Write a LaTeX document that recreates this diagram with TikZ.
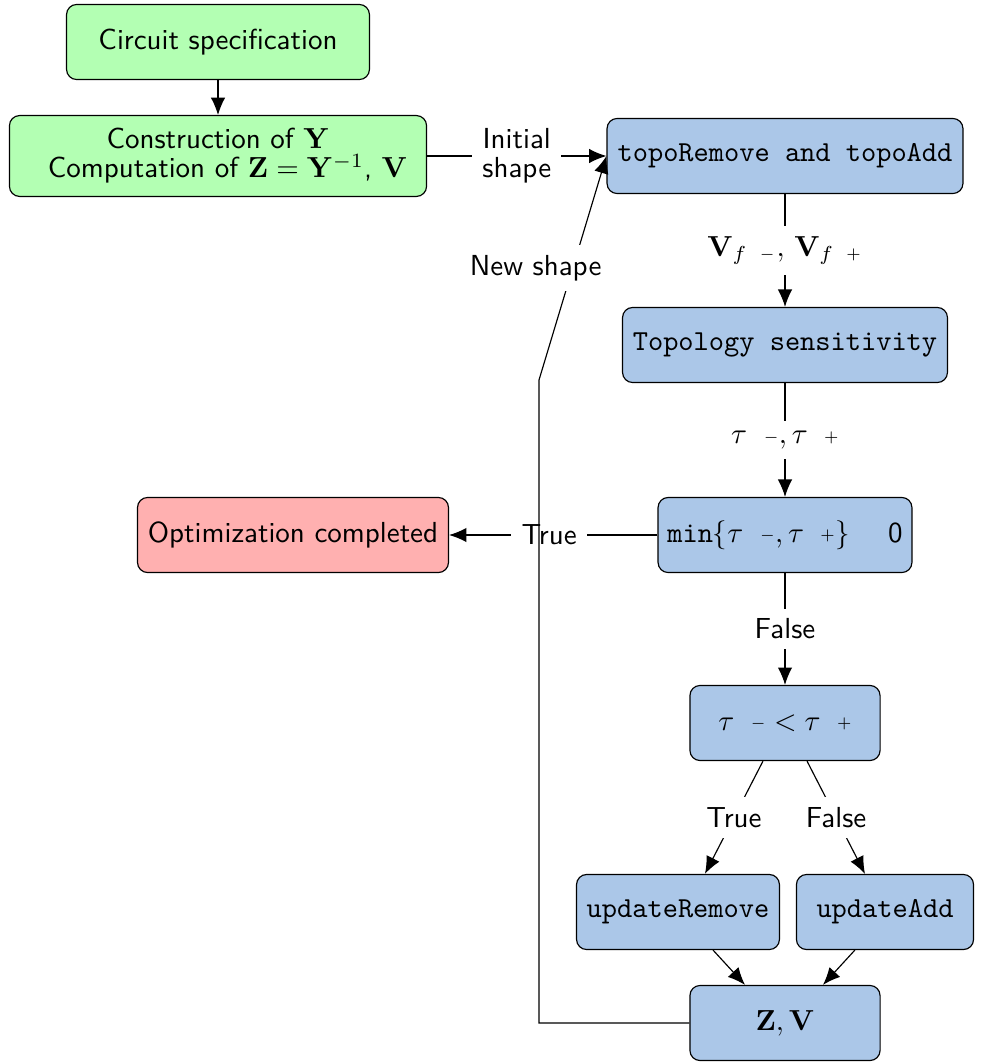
\documentclass[tikz,border=0pt]{standalone}
\usepackage{amsmath}
\usepackage{amssymb}
\usepackage{tikz}
\usepackage{xcolor}
\usetikzlibrary{arrows.meta}

\definecolor{specgreen}{HTML}{B3FFB3}
\definecolor{stepblue}{HTML}{ABC7E8}
\definecolor{donered}{HTML}{FFB0B0}

% small sign after a blank, as the picture prints it
\newcommand{\gapsign}[1]{\;\;\raisebox{0.8pt}{$\scriptscriptstyle #1$}}

\tikzset{
  blockbox/.style={draw, rounded corners=3.5pt, align=center, font=\sffamily,
    minimum height=25.9pt, inner sep=2pt},
  greenbox/.style={blockbox, fill=specgreen},
  bluebox/.style={blockbox, fill=stepblue},
  redbox/.style={blockbox, fill=donered},
  flow/.style={-{Latex[length=6pt,width=5pt]}},
  edgelabel/.style={fill=white, font=\sffamily, align=center, inner sep=3.5pt}
}

\begin{document}
\begin{tikzpicture}[x=0.345pt, y=-0.345pt]
  \useasboundingbox (0,0) rectangle (988,1064);
  % --- left column ----------------------------------------------------
  \node[greenbox, minimum width=104.5pt] (spec) at (218,42) {Circuit specification};
  \node[greenbox, minimum width=143.9pt, minimum height=27.9pt] (constr) at (218,156)
       {Construction of $\mathbf{Y}$\\[-2pt]
        \ \ Computation of $\mathbf{Z}=\mathbf{Y}^{-1}$, $\mathbf{V}$};
  \node[redbox, minimum width=107.3pt] (done) at (293,535) {Optimization completed};
  % --- right column ---------------------------------------------------
  \node[bluebox, minimum width=122.8pt] (topo) at (785,156) {\texttt{topoRemove and topoAdd}};
  \node[bluebox, minimum width=112.1pt] (sens) at (785,345) {\texttt{Topology sensitivity}};
  \node[bluebox, minimum width=87.6pt] (test) at (785,535)
       {\texttt{min}$\{\tau\gapsign{-},\tau\gapsign{+}\}$\quad\ 0};
  \node[bluebox, minimum width=65.6pt] (cmp) at (785,723)
       {$\tau\gapsign{-}<\tau\gapsign{+}$};
  \node[bluebox, minimum width=70pt] (rem) at (678,912) {\texttt{updateRemove}};
  \node[bluebox, minimum width=61.1pt] (add) at (885,912) {\texttt{updateAdd}};
  \node[bluebox, minimum width=65.6pt] (zv) at (785,1023) {$\mathbf{Z},\mathbf{V}$};

  % --- anchors for the slanted connectors -----------------------------
  \coordinate (cmpl) at ([xshift=-7.6pt]cmp.south);
  \coordinate (cmpr) at ([xshift=7.6pt]cmp.south);
  \coordinate (remin) at ([xshift=9.3pt]rem.north);
  \coordinate (addin) at ([xshift=-6.9pt]add.north);
  \coordinate (remout) at ([xshift=12.1pt]rem.south);
  \coordinate (addout) at ([xshift=-10.4pt]add.south);
  \coordinate (zvl) at ([xshift=-13.8pt]zv.north);
  \coordinate (zvr) at ([xshift=13.1pt]zv.north);
  \coordinate (bend) at (539,380);

  % --- connectors -----------------------------------------------------
  \draw[flow] (spec) -- (constr);
  \draw[flow] (constr) -- node[edgelabel] {Initial\\[-2pt]shape} (topo);
  \draw[flow] (topo) -- node[edgelabel]
       {$\mathbf{V}_{f\gapsign{-}},\,\mathbf{V}_{f\gapsign{+}}$} (sens);
  \draw[flow] (sens) -- node[edgelabel]
       {$\tau\gapsign{-},\tau\gapsign{+}$} (test);
  \draw[flow] (test) -- node[edgelabel, pos=0.52] {True} (done);
  \draw[flow] (test) -- node[edgelabel] {False} (cmp);
  \draw[flow] (cmpl) -- node[edgelabel] {True} (remin);
  \draw[flow] (cmpr) -- node[edgelabel] {False} (addin);
  \draw[flow] (remout) -- (zvl);
  \draw[flow] (addout) -- (zvr);
  \draw[flow] (zv.west) -| (bend) -- node[edgelabel, pos=0.5, xshift=-12.8pt] {New shape} (topo.west);
\end{tikzpicture}
\end{document}
